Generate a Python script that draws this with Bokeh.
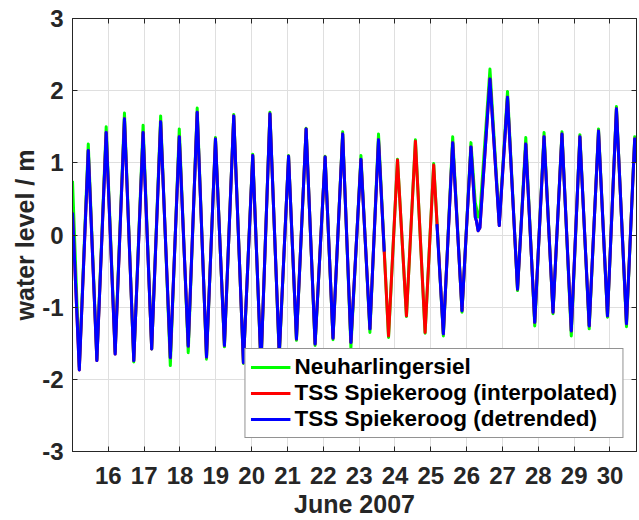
from bokeh.plotting import figure
from bokeh.models import Range1d, LinearAxis, FixedTicker
from bokeh.embed import file_html
from bokeh.resources import INLINE

# ---- data (day of June 2007, water level in m) ----
# TSS Spiekeroog (detrended): segment before the data gap
det_day_a = [15.00, 15.19, 15.44, 15.68, 15.94, 16.19, 16.45, 16.71, 16.97, 17.21,
             17.46, 17.73, 17.98, 18.23, 18.48, 18.74, 18.99, 19.24, 19.50, 19.77,
             20.03, 20.26, 20.51, 20.77, 21.03, 21.25, 21.52, 21.77, 22.05, 22.27,
             22.54, 22.77, 23.05, 23.30, 23.54, 23.70]
det_lvl_a = [0.31, -1.87, 1.17, -1.74, 1.42, -1.65, 1.61, -1.74, 1.42, -1.58,
             1.57, -1.70, 1.36, -1.54, 1.70, -1.69, 1.33, -1.53, 1.65, -1.77,
             1.10, -1.80, 1.68, -1.65, 1.09, -1.44, 1.47, -1.51, 1.08, -1.43,
             1.40, -1.49, 1.05, -1.30, 1.32, -0.23]
# segment after the gap
det_day_b = [25.17, 25.35, 25.61, 25.87, 26.12, 26.24, 26.27, 26.32, 26.37, 26.65,
             26.91, 27.14, 27.42, 27.65, 27.90, 28.16, 28.41, 28.66, 28.92, 29.16,
             29.42, 29.68, 29.93, 30.18, 30.46, 30.69, 30.74]
det_lvl_b = [0.15, -1.37, 1.28, -1.05, 1.22, 0.25, 0.20, 0.06, 0.10, 2.16,
             0.13, 1.91, -0.75, 1.26, -1.21, 1.36, -1.07, 1.40, -1.33, 1.36,
             -1.26, 1.44, -1.12, 1.75, -1.23, 1.33, 1.01]

# TSS Spiekeroog (interpolated): values inside the gap
int_day_gap = [23.82, 24.07, 24.32, 24.57, 24.84, 25.08]
int_lvl_gap = [-1.40, 1.04, -1.12, 1.30, -1.35, 0.97]

# Neuharlingersiel
nh_day = [15.00, 15.19, 15.44, 15.68, 15.94, 16.19, 16.45, 16.71, 16.97, 17.21,
          17.46, 17.73, 17.98, 18.23, 18.48, 18.74, 18.99, 19.24, 19.50, 19.77,
          20.03, 20.26, 20.51, 20.77, 21.03, 21.25, 21.52, 21.77, 22.05, 22.27,
          22.54, 22.77, 23.05, 23.30, 23.54, 23.82, 24.07, 24.32, 24.57, 24.84,
          25.08, 25.35, 25.61, 25.87, 26.12, 26.24, 26.27, 26.32, 26.37, 26.65,
          26.91, 27.14, 27.42, 27.65, 27.90, 28.16, 28.41, 28.66, 28.92, 29.16,
          29.42, 29.68, 29.93, 30.18, 30.46, 30.69, 30.74]
nh_lvl = [0.75, -1.83, 1.26, -1.72, 1.50, -1.62, 1.69, -1.76, 1.52, -1.58,
          1.65, -1.81, 1.47, -1.63, 1.76, -1.72, 1.35, -1.55, 1.67, -1.78,
          1.12, -1.82, 1.70, -1.68, 1.10, -1.46, 1.48, -1.53, 1.09, -1.45,
          1.43, -1.56, 1.10, -1.35, 1.40, -1.42, 1.05, -1.13, 1.32, -1.36,
          0.99, -1.40, 1.36, -1.07, 1.28, 0.45, 0.38, 0.25, 0.30, 2.30,
          0.17, 1.99, -0.77, 1.35, -1.26, 1.42, -1.09, 1.43, -1.40, 1.39,
          -1.30, 1.47, -1.14, 1.78, -1.27, 1.36, 1.05]

x_ticks = [16, 17, 18, 19, 20, 21, 22, 23, 24, 25, 26, 27, 28, 29, 30]
x_tick_labels = ["16", "17", "18", "19", "20", "21", "22", "23", "24", "25",
                 "26", "27", "28", "29", "30"]
y_ticks = [-3, -2, -1, 0, 1, 2, 3]
y_tick_labels = ["-3", "-2", "-1", "0", "1", "2", "3"]

series_names = ["Neuharlingersiel", "TSS Spiekeroog (interpolated)",
                "TSS Spiekeroog (detrended)"]

# ---- build series ----
int_day = det_day_a[:-1] + int_day_gap + det_day_b[1:]
int_lvl = det_lvl_a[:-1] + int_lvl_gap + det_lvl_b[1:]
det_day = det_day_a + [float("nan")] + det_day_b
det_lvl = det_lvl_a + [float("nan")] + det_lvl_b

FONT = "Liberation Sans"
DARK = "#262626"
LW = 3

p = figure(width=639, height=520, output_backend="svg", toolbar_location=None,
           x_range=Range1d(15.0, 30.74), y_range=Range1d(-3, 3),
           min_border_left=72, min_border_right=3, min_border_top=18,
           min_border_bottom=68, background_fill_color="white",
           border_fill_color="white")

p.line(nh_day, nh_lvl, color="#00ff00", line_width=LW, line_join="round",
       legend_label=series_names[0])
p.line(int_day, int_lvl, color="#ff0000", line_width=LW, line_join="round",
       legend_label=series_names[1])
p.line(det_day, det_lvl, color="#0000ff", line_width=LW, line_join="round",
       legend_label=series_names[2])

xt = FixedTicker(ticks=x_ticks)
yt = FixedTicker(ticks=y_ticks)

def style_axis(ax, show_labels=True):
    ax.major_tick_in = 5
    ax.major_tick_out = 0
    ax.minor_tick_in = 0
    ax.minor_tick_out = 0
    ax.axis_line_color = DARK
    ax.major_tick_line_color = DARK
    ax.major_label_text_font = FONT
    ax.major_label_text_font_style = "bold"
    ax.major_label_text_color = DARK
    if show_labels:
        ax.major_label_text_font_size = "24px"
    else:
        ax.major_label_text_font_size = "1px"
        ax.major_label_text_alpha = 0
        ax.major_label_standoff = 0

xa = p.xaxis[0]
xa.ticker = xt
xa.major_label_overrides = {t: l for t, l in zip(x_ticks, x_tick_labels)}
style_axis(xa)
xa.major_label_standoff = 15
xa.axis_label = "June 2007"
xa.axis_label_standoff = 3

ya = p.yaxis[0]
ya.ticker = yt
ya.major_label_overrides = {t: l for t, l in zip(y_ticks, y_tick_labels)}
style_axis(ya)
ya.major_label_standoff = 9
ya.axis_label = "water level / m"
ya.axis_label_standoff = 0

for ax in (xa, ya):
    ax.axis_label_text_font = FONT
    ax.axis_label_text_font_style = "bold"
    ax.axis_label_text_font_size = "25px"
    ax.axis_label_text_color = DARK

top = LinearAxis(ticker=xt)
style_axis(top, show_labels=False)
p.add_layout(top, "above")
right = LinearAxis(ticker=yt)
style_axis(right, show_labels=False)
p.add_layout(right, "right")

p.xgrid.ticker = xt
p.ygrid.ticker = yt
p.grid.grid_line_color = "#dfdfdf"
p.grid.grid_line_width = 1
p.outline_line_color = DARK

lg = p.legend[0]
lg.location = "bottom_right"
lg.margin = 13
lg.padding = 5
lg.spacing = 0
lg.glyph_width = 40
lg.glyph_height = 26
lg.label_height = 26
lg.label_standoff = 4
lg.label_text_font = FONT
lg.label_text_font_style = "bold"
lg.label_text_font_size = "22.5px"
lg.label_text_color = "black"
lg.border_line_color = DARK
lg.border_line_width = 1
lg.background_fill_color = "white"
lg.background_fill_alpha = 1

open("out.html", "w").write(file_html(p, INLINE))
